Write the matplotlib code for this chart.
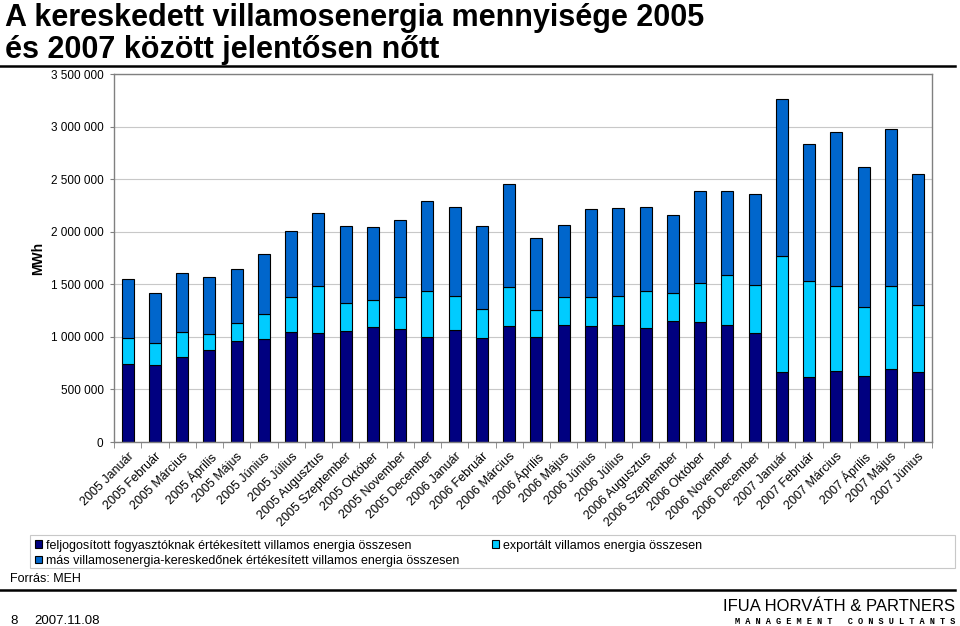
import matplotlib
matplotlib.use("Agg")
import matplotlib.pyplot as plt
import numpy as np
from matplotlib.patches import Rectangle
from matplotlib.ticker import FuncFormatter, FixedLocator

plt.rcParams['font.family'] = ['Liberation Sans', 'DejaVu Sans']

# Data (MWh)
months = ["Január", "Február", "Március", "Április", "Május", "Június", "Július",
          "Augusztus", "Szeptember", "Október", "November", "December"]
categories = ([f"2005 {m}" for m in months] + [f"2006 {m}" for m in months]
              + [f"2007 {m}" for m in months[:6]])

feljogositott = [746, 733, 809, 873, 961, 980, 1047, 1041, 1060, 1098, 1073, 1000,
                 1069, 990, 1104, 1003, 1114, 1107, 1111, 1088, 1149, 1142, 1114, 1034,
                 663, 622, 679, 631, 698, 663]
exportalt = [241, 206, 241, 158, 175, 242, 336, 447, 263, 254, 310, 441,
             318, 279, 372, 257, 269, 273, 276, 349, 269, 375, 473, 461,
             1104, 914, 803, 657, 787, 641]
mas_kereskedo = [562, 476, 562, 543, 514, 564, 629, 692, 733, 695, 733, 853,
                 853, 784, 977, 679, 683, 835, 844, 803, 743, 869, 799, 869,
                 1495, 1304, 1466, 1330, 1495, 1250]

labels = ["feljogosított fogyasztóknak értékesített villamos energia összesen",
          "exportált villamos energia összesen",
          "más villamosenergia-kereskedőnek értékesített villamos energia összesen"]
colors = ["#000080", "#00CCFF", "#0066CC"]

s1 = np.array(feljogositott) * 1000
s2 = np.array(exportalt) * 1000
s3 = np.array(mas_kereskedo) * 1000
x = np.arange(len(categories))

fig = plt.figure(figsize=(9.6, 6.26), dpi=100)
ax = fig.add_axes([0.11875, 0.2939, 0.8518, 0.5874])

w = 0.44
b1 = ax.bar(x, s1, w, color=colors[0], edgecolor="black", linewidth=0.8, label=labels[0])
b2 = ax.bar(x, s2, w, bottom=s1, color=colors[1], edgecolor="black", linewidth=0.8, label=labels[1])
b3 = ax.bar(x, s3, w, bottom=s1 + s2, color=colors[2], edgecolor="black", linewidth=0.8, label=labels[2])

ax.set_xlim(-0.5, len(categories) - 0.5)
ax.set_ylim(0, 3500000)
ax.set_yticks(np.arange(0, 3500001, 500000))
ax.yaxis.set_major_formatter(FuncFormatter(lambda v, p: f"{int(v):,}".replace(",", " ")))
ax.yaxis.grid(True, color="#C8C8C8", linewidth=0.8)
ax.set_axisbelow(True)
ax.tick_params(axis="y", labelsize=8.5, length=3, color="#808080", pad=4.5)

ax.set_xticks(x)
ax.set_xticklabels(categories, rotation=45, ha="right", rotation_mode="anchor", fontsize=9)
ax.tick_params(axis="x", which="major", length=0, pad=6)
ax.xaxis.set_minor_locator(FixedLocator(np.arange(-0.5, len(categories), 1)))
ax.tick_params(axis="x", which="minor", length=4, color="#808080")

for sp in ax.spines.values():
    sp.set_color("#808080")
    sp.set_linewidth(1)

ax.set_ylabel("MWh", fontsize=10, fontweight="bold", labelpad=4)

# Title
fig.text(0.005, 0.958, "A kereskedett villamosenergia mennyisége 2005", fontsize=22,
         fontweight="bold", va="baseline")
fig.text(0.005, 0.908, "és 2007 között jelentősen nőtt", fontsize=22,
         fontweight="bold", va="baseline")
fig.add_artist(plt.Line2D([0, 0.995], [0.894, 0.894], color="black", linewidth=1.8))

# Legend box
fig.add_artist(Rectangle((30 / 960, 1 - 568 / 626), 925 / 960, 33 / 626, transform=fig.transFigure,
                         facecolor="none", edgecolor="#C8C8C8", linewidth=0.8))
fig.legend([b1, b3, b2], [labels[0], labels[2], labels[1]], ncol=2, frameon=False,
           loc="upper left", bbox_to_anchor=(26 / 960, 1 - 531 / 626), fontsize=9,
           handlelength=0.6, handleheight=0.6, handletextpad=0.3, labelspacing=0.25,
           columnspacing=2.6, borderpad=0.2)

fig.text(10 / 960, 1 - 582 / 626, "Forrás: MEH", fontsize=9, va="baseline")
fig.add_artist(plt.Line2D([0, 0.995], [1 - 590 / 626, 1 - 590 / 626], color="black", linewidth=1.8))

fig.text(10 / 960, 1 - 624 / 626, "8", fontsize=9.5, va="baseline")
fig.text(34 / 960, 1 - 624 / 626, "2007.11.08", fontsize=9.5, va="baseline")
fig.text(955 / 960, 1 - 611 / 626, "IFUA HORVÁTH & PARTNERS", fontsize=12, ha="right",
         va="baseline")
fig.text(955 / 960, 1 - 624 / 626, "M A N A G E M E N T   C O N S U L T A N T S", fontsize=6.2,
         ha="right", va="baseline", fontweight="bold", family=['Liberation Mono', 'DejaVu Sans Mono'])

fig.savefig("out.png", dpi=100)
